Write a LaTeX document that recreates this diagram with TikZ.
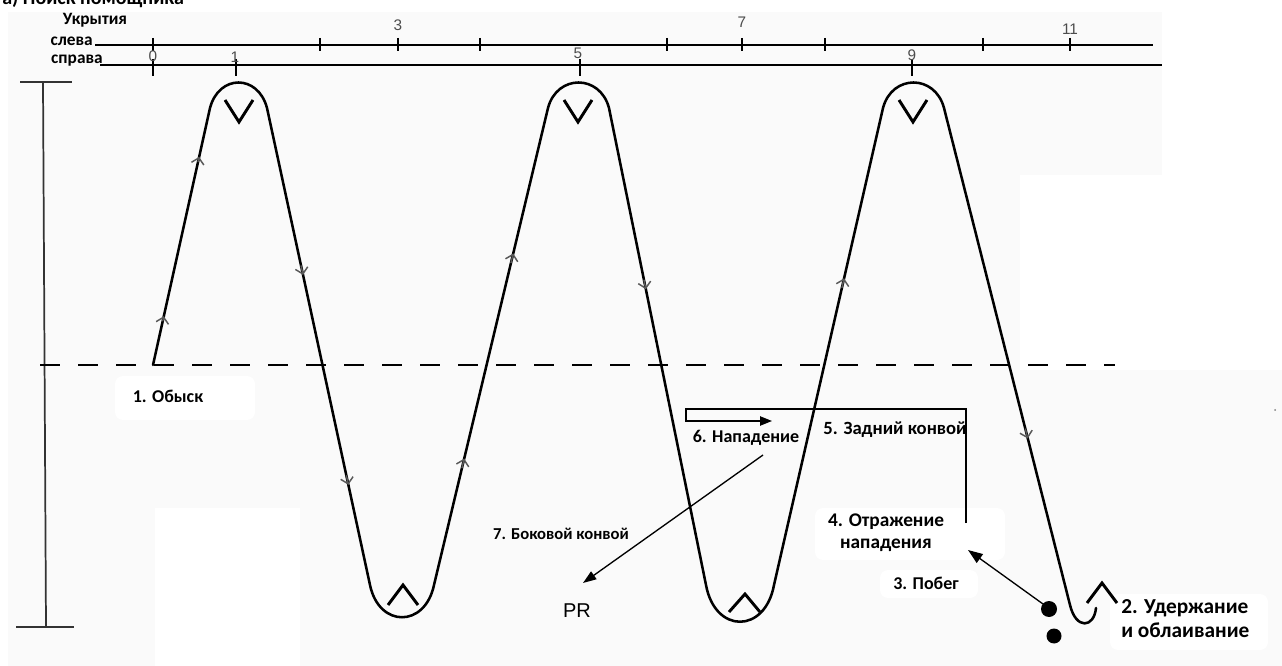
\documentclass[tikz,border=0pt]{standalone}
\usepackage{fontspec}
\setmainfont{Carlito}
\newfontfamily\numfont{Liberation Sans}
\usetikzlibrary{arrows.meta,calc}
\newcommand\chv[4]{\draw[chev] ($(#1)!#3!(#2)$) -- ($(#1)!#4!(#2)$);}
\begin{document}
\begin{tikzpicture}[x=0.75pt,y=-0.75pt,
  lbl/.style={font=\fontsize{13.5}{16}\selectfont\bfseries, inner sep=0pt, align=center},
  small/.style={font=\fontsize{13}{14}\selectfont\bfseries, inner sep=0pt},
  num/.style={font=\numfont\fontsize{11.5}{12}\selectfont, text=black!70, inner sep=0pt},
  zig/.style={line width=1.9pt, line join=round, line cap=round},
  chev/.style={line width=1.1pt, draw=black!65, -{Straight Barb[length=4.5pt,width=9.5pt]}},
  vmark/.style={line width=2.2pt, line join=miter},
  ruler/.style={line width=1.3pt},
  tick/.style={line width=1pt},
  thin/.style={line width=1pt},
  patch/.style={fill=white, draw=none, rounded corners=6pt}
]
\useasboundingbox (0,0) rectangle (1282,666);
% background
\fill[gray!4] (8,12) rectangle (1162,666);
\fill[gray!4] (1162,370) rectangle (1282,666);
\fill[white] (1020,175) rectangle (1282,370);
\fill[white] (155,508) rectangle (300,666);
\fill[patch] (115,376) rectangle (255,420);
\fill[patch] (1110,594) rectangle (1268,650);
\fill[patch] (880,570) rectangle (978,598);
\fill[patch] (815,508) rectangle (1005,560);

% title (cut off at top, as in the reference)
\node[anchor=base west, inner sep=0pt, font=\fontsize{15}{16}\selectfont\bfseries] (title) at (2,5) {а) Поиск помощника};

% ruler
\node[small] (ukr) at (95,20) {Укрытия};
\node[small, anchor=east] (sleva) at (93,41) {слева};
\node[small, anchor=east] (sprava) at (103,61) {справа};
\draw[ruler] (95,45) coordinate (tl) -- (1153,45) coordinate (tr);
\draw[ruler] (100,65) coordinate (bl) -- (1162,65) coordinate (br);
\foreach \x in {153,320,398,480,667,742,825,983,1070}
  \draw[tick] (\x,38) -- (\x,51);
\foreach \x in {153,236,580,912}
  \draw[tick] (\x,59) -- (\x,76);
\node[num] (n0) at (153,56) {0};
\node[num] (n1) at (235,57) {1};
\node[num] (n3) at (398,25) {3};
\node[num] (n5) at (578,53) {5};
\node[num] (n7) at (742,22) {7};
\node[num] (n9) at (912,55) {9};
\node[num] (n11) at (1070,29) {11};

% vertical scale
\draw[line width=1.3pt, draw=black!80] (43,82) -- (46,627);
\draw[line width=1.3pt, draw=black!80] (20,82) -- (72,82);
\draw[line width=1.3pt, draw=black!80] (16,627) -- (74,627);

% dashed line
\draw[line width=1.6pt, dash pattern=on 15pt off 13.5pt] (40,365) -- (1115,365);

% zigzag coordinates
\coordinate (A0) at (153,365);
\coordinate (A1) at (210,108);
\coordinate (B0) at (267,108);
\coordinate (B1) at (370,585);
\coordinate (C0) at (434,585);
\coordinate (C1) at (548,108);
\coordinate (D0) at (609,108);
\coordinate (D1) at (706,585);
\coordinate (E0) at (774,585);
\coordinate (E1) at (883,108);
\coordinate (F0) at (944,108);
\coordinate (F1) at (1070,605);
\coordinate (G) at (1096,608);

\draw[zig] (A0) -- (A1)
  .. controls (219,74) and (258,74) .. (B0)
  -- (B1)
  .. controls (379,628) and (425,628) .. (C0)
  -- (C1)
  .. controls (557,74) and (600,74) .. (D0)
  -- (D1)
  .. controls (715,634) and (765,634) .. (E0)
  -- (E1)
  .. controls (892,74) and (935,74) .. (F0)
  -- (F1)
  .. controls (1076,630) and (1094,628) .. (G);

% chevrons on the lines
\chv{A0}{A1}{0.17}{0.19}
\chv{A0}{A1}{0.79}{0.81}
\chv{B0}{B1}{0.33}{0.35}
\chv{B0}{B1}{0.77}{0.79}
\chv{C0}{C1}{0.245}{0.265}
\chv{C0}{C1}{0.675}{0.695}
\chv{D0}{D1}{0.36}{0.38}
\chv{E0}{E1}{0.623}{0.643}
\chv{F0}{F1}{0.645}{0.665}

% V and ^ marks
\draw[vmark] (225,100) -- (239,122) -- (253,100);
\draw[vmark] (564,100) -- (578,122) -- (592,100);
\draw[vmark] (899,100) -- (913,122) -- (927,100);
\draw[vmark] (388,605) -- (403,585) -- (418,605);
\draw[vmark] (729,612) -- (745,594) -- (760,612);
\draw[vmark] (1087,603) -- (1102,583) -- (1117,603);

% labels
\node[lbl] (obysk) at (168,396) {1. Обыск};
\node[lbl] (napad) at (746,438) {6. Нападение};
\node[lbl, font=\fontsize{14}{16}\selectfont\bfseries] (zadn) at (895,430) {5. Задний конвой};
\node[lbl, font=\fontsize{12.5}{16}\selectfont\bfseries] (bok) at (561,534) {7. Боковой конвой};
\node[font=\numfont\fontsize{15}{16}\selectfont, inner sep=0pt] (pr) at (577,611) {PR};
\node[lbl, font=\fontsize{14.5}{16.5}\selectfont\bfseries] (otr) at (886,533) {4. Отражение\\нападения};
\node[lbl] (pobeg) at (926,583) {3. Побег};
\node[lbl, align=left, anchor=north west, font=\fontsize{16}{18}\selectfont\bfseries] (uder) at (1121,599) {2. Удержание\\и облаивание};

% rear convoy bracket with attack arrow
\coordinate (zb) at (966,523);
\coordinate (zt) at (966,409);
\coordinate (nt) at (686,409);
\coordinate (nb) at (686,421);
\coordinate (na) at (772,421);
\draw[thin, -{Triangle[length=9pt,width=7pt]}] (zb) -- (zt) -- (nt) -- (nb) -- (na);

% side convoy arrow to PR
\coordinate (ps) at (763,455);
\coordinate (pe) at (583,583);
\draw[thin, -{Triangle[length=10pt,width=7pt]}] (ps) -- (pe);

% dogs and escape arrow
\fill (1049,609) circle (8) coordinate (dog1);
\fill (1054,636) circle (7.5) coordinate (dog2);
\coordinate (esc) at (968,550);
\draw[thin, -{Triangle[length=11pt,width=8pt]}] (1043,604) -- (esc);

% stray dot
\fill[black!50] (1275,410) circle (1);
\end{tikzpicture}
\end{document}
